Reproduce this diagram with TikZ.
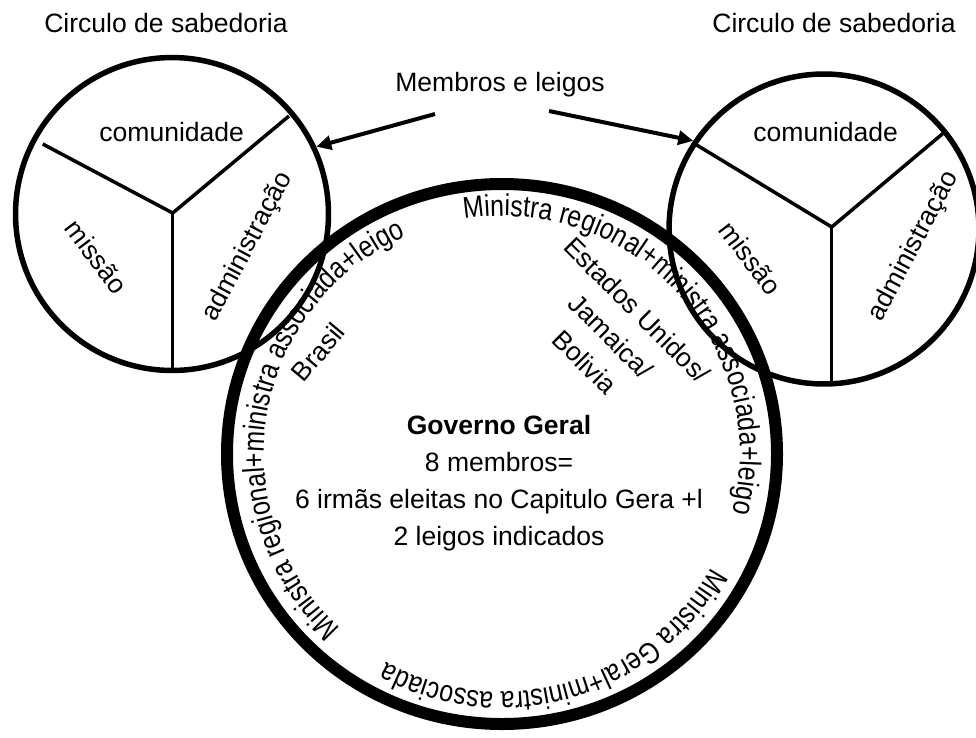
\documentclass[tikz,border=0pt]{standalone}
\usepackage{fontspec}
\setmainfont{Liberation Sans}
\newfontfamily\ringfont{Liberation Sans}[FakeStretch=0.83]
\usetikzlibrary{arrows.meta,decorations.text}

\begin{document}
\begin{tikzpicture}[x=0.02cm, y=0.02cm,
    lbl/.style={inner sep=0pt, font=\fontsize{15.1}{21}\selectfont},
    wisdom/.style={circle, draw, line width=0.11cm, inner sep=0pt},
    spoke/.style={line width=0.07cm},
    ring/.style={line width=0.24cm},
    ringtext/.style={decorate, decoration={text along path, text align=center,
        text={|\ringfont\fontsize{17.1}{19}\selectfont|#1}}},
    pointer/.style={line width=0.08cm, -{Triangle[length=0.3cm, width=0.28cm]}}]
        \useasboundingbox (0,0) rectangle (976,-737);

        % left circle of wisdom
        \begin{scope}[shift={(172,-214)}]
          \node[wisdom, minimum size=6.26cm] (sabL) at (0,0) {};
          \coordinate (hubL) at (0.7,1);
          \foreach \p in {(-129.3,70), (117,98), (0.7,-156)}
            \draw[spoke] (hubL) -- \p;
          \node[lbl] (comL) at (-0.3,82.3) {comunidade};
          \node[lbl, rotate=-53] (misL) at (-75.3,-42.7) {missão};
          \node[lbl, rotate=62] (admL) at (76,-32.7) {administração};
        \end{scope}

        % right circle of wisdom
        \begin{scope}[shift={(824,-229)}]
          \node[wisdom, minimum size=6.2cm] (sabR) at (0,0) {};
          \coordinate (hubR) at (7.7,2);
          \foreach \p in {(-127.3,84), (121,97.3), (7.7,-155)}
            \draw[spoke] (hubR) -- \p;
          \node[lbl] (comR) at (1.7,97.3) {comunidade};
          \node[lbl, rotate=-53] (misR) at (-73.3,-29) {missão};
          \node[lbl, rotate=62] (admR) at (90,-17) {administração};
        \end{scope}

        \node[lbl] (titleL) at (166,-23) {Circulo de sabedoria};
        \node[lbl] (titleR) at (834,-23) {Circulo de sabedoria};
        \node[lbl] (membros) at (500,-85) {Membros e leigos};
        \coordinate (fromL) at (435,-114);
        \coordinate (fromR) at (549,-111);
        \draw[pointer] (fromL) -- (sabL.25);
        \draw[pointer] (fromR) -- (sabR.146);

        % general government
        \draw[ring] (502,-454) ellipse [x radius=275, y radius=270];
        \path[ringtext={Ministra regional+ministra associada+leigo}]
          (502,-454) ++(245.5:238) arc [start angle=245.5, end angle=95.5, radius=238];
        \path[ringtext={Ministra regional+ministra associada+leigo}]
          (502,-454) ++(117.4:238) arc [start angle=117.4, end angle=-32.6, radius=238];
        \path[ringtext={Ministra Geral+ministra associada}]
          (502,-454) ++(-13.75:238) arc [start angle=-13.75, end angle=-133.75, radius=238];
        \node[lbl, align=center] (gov) at (499,-483)
          {\textbf{Governo Geral}\\8 membros=\\6 irmãs eleitas no Capitulo Gera +l\\2 leigos indicados};
        \node[lbl, rotate=50] (brasil) at (318,-352) {Brasil};
        \node[lbl, align=center, rotate=-45] (regioes) at (611,-336)
          {Estados Unidos/\\Jamaica/\\Bolivia};
\end{tikzpicture}
\end{document}
